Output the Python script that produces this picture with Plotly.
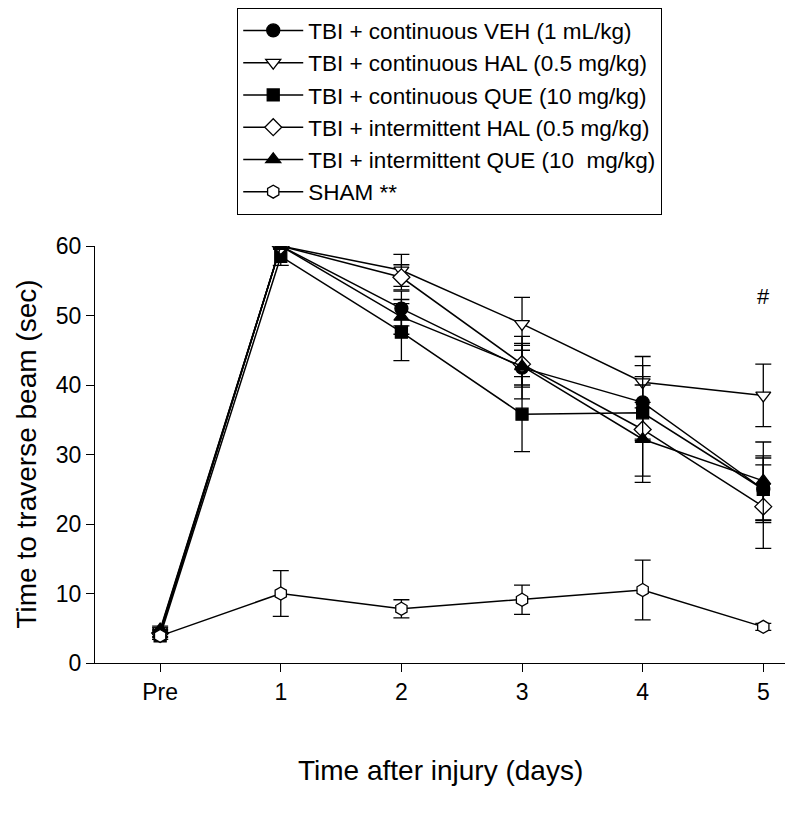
import plotly.graph_objects as go

# x positions: Pre, day 1..5
days = [0, 1, 2, 3, 4, 5]
day_labels = ["Pre", "1", "2", "3", "4", "5"]

veh_cont = [4.2, 60.0, 51.0, 42.5, 37.5, 25.0]
veh_cont_err = [0.5, 0.0, 2.5, 4.5, 5.3, 4.5]

hal_cont = [4.6, 60.0, 56.5, 48.8, 40.4, 38.5]
hal_cont_err = [0.5, 0.0, 2.3, 3.8, 3.7, 4.5]

que_cont = [3.9, 58.5, 47.6, 35.8, 36.0, 25.0]
que_cont_err = [0.5, 1.3, 4.1, 5.4, 4.0, 4.8]

hal_int = [4.3, 60.0, 55.5, 43.0, 33.6, 22.5]
hal_int_err = [0.5, 0.0, 1.8, 3.0, 7.6, 6.0]

que_int = [4.8, 60.0, 49.8, 42.7, 32.2, 26.2]
que_int_err = [0.5, 0.0, 2.5, 3.0, 5.3, 5.6]

sham = [3.9, 10.0, 7.8, 9.1, 10.5, 5.2]
sham_err = [0.5, 3.3, 1.3, 2.1, 4.3, 0.5]

# "#" marker: day 5
sig_day = 5
sig_y = 52.8

series = [
    ("TBI + continuous VEH (1 mL/kg)", veh_cont, veh_cont_err, "circle", "black"),
    ("TBI + continuous HAL (0.5 mg/kg)", hal_cont, hal_cont_err, "triangle-down", "white"),
    ("TBI + continuous QUE (10 mg/kg)", que_cont, que_cont_err, "square", "black"),
    ("TBI + intermittent HAL (0.5 mg/kg)", hal_int, hal_int_err, "diamond", "white"),
    ("TBI + intermittent QUE (10  mg/kg)", que_int, que_int_err, "triangle-up", "black"),
    ("SHAM **", sham, sham_err, "hexagon", "white"),
]

FONT = "Liberation Sans, Arial, sans-serif"

fig = go.Figure()

for name, vals, errs, sym, fill in series:
    fig.add_trace(go.Scatter(
        x=days, y=vals,
        mode="lines+markers",
        name=name,
        line=dict(color="black", width=1.5),
        marker=dict(symbol=sym, size=13 if sym != "square" else 12, color=fill,
                    line=dict(color="black", width=1.3)),
        error_y=dict(type="data", array=errs, visible=True, color="black",
                     thickness=1.3, width=8),
    ))

fig.add_annotation(x=sig_day, y=sig_y, text="#", showarrow=False,
                   font=dict(size=22, color="black", family=FONT))

# axis titles as annotations (margins are fixed)
fig.add_annotation(xref="paper", yref="paper", x=-0.1, y=0.5, textangle=-90,
                   text="Time to traverse beam (sec)", showarrow=False,
                   xanchor="center", yanchor="middle",
                   font=dict(size=28, color="black", family=FONT))
fig.add_annotation(xref="paper", yref="paper", x=0.5, y=-0.257,
                   text="Time after injury (days)", showarrow=False,
                   xanchor="center", yanchor="middle",
                   font=dict(size=28, color="black", family=FONT))

# page body has an 8px margin, so the figure is sized to fit inside the window
fig.update_layout(
    width=784, height=802,
    paper_bgcolor="white", plot_bgcolor="white",
    font=dict(family=FONT, color="black", size=23),
    margin=dict(l=87, r=7, t=238, b=147, autoexpand=False),
    showlegend=True,
    legend=dict(
        xref="container", yref="container",
        x=0.292, y=1.0, xanchor="left", yanchor="top",
        bordercolor="black", borderwidth=1.3, bgcolor="white",
        font=dict(size=22.5, family=FONT),
        itemwidth=60,
    ),
    xaxis=dict(
        range=[-0.54, 5.18], tickvals=days, ticktext=day_labels, tickangle=0,
        showgrid=False, zeroline=False, showline=True, linecolor="black", linewidth=1.3,
        ticks="outside", ticklen=8, tickcolor="black", tickwidth=1.3,
        tickfont=dict(size=23),
    ),
    yaxis=dict(
        range=[0, 60], tickvals=[0, 10, 20, 30, 40, 50, 60],
        showgrid=False, zeroline=False, showline=True, linecolor="black", linewidth=1.3,
        ticks="outside", ticklen=8, tickcolor="black", tickwidth=1.3,
        tickfont=dict(size=23),
    ),
)

fig.write_html("out.html")
